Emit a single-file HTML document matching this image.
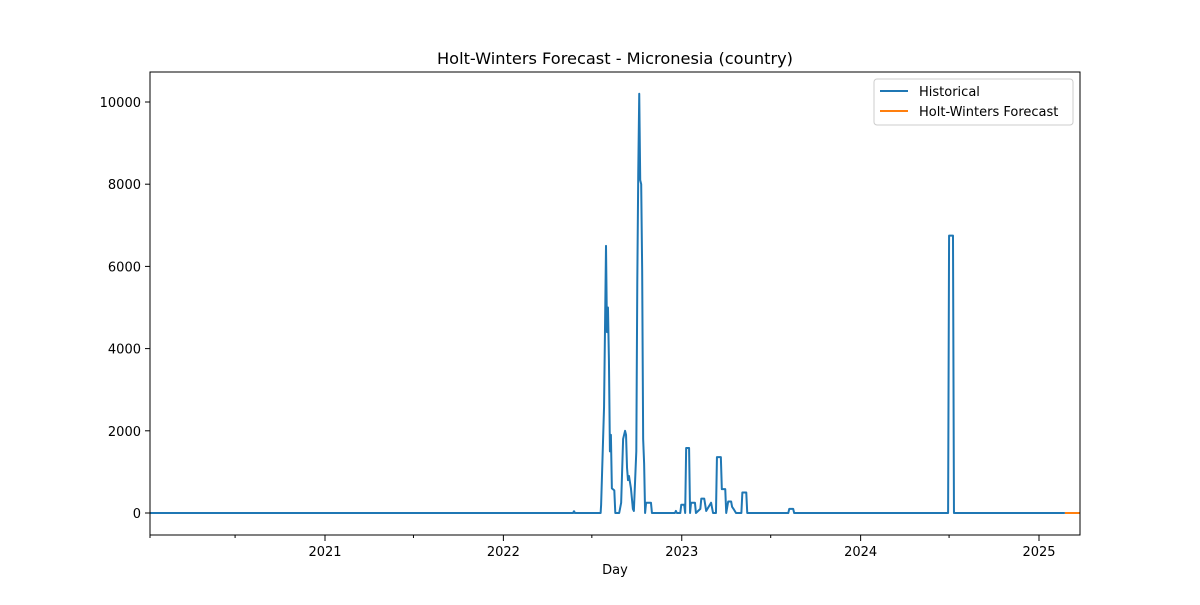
<!DOCTYPE html>
<html><head><meta charset="utf-8"><style>
body{margin:0;background:#fff;}
svg text{font-family:"DejaVu Sans","Liberation Sans",sans-serif;font-size:13px;fill:#000;}
</style></head><body>
<svg id="chart" width="1200" height="600" xmlns="http://www.w3.org/2000/svg">
<rect width="1200" height="600" fill="#fff"/>
<text x="615" y="64" text-anchor="middle" style="font-size:16.2px">Holt-Winters Forecast - Micronesia (country)</text>
<g id="plot"></g>
<rect x="150" y="72" width="930" height="463" fill="none" stroke="#000" stroke-width="1"/>
<text x="615" y="574" text-anchor="middle">Day</text>
<g>
<rect x="874" y="79" width="199" height="46" rx="3" fill="#fff" stroke="#ccc"/>
<line x1="880" y1="91" x2="908" y2="91" stroke="#1f77b4" stroke-width="2"/>
<text x="919" y="96">Historical</text>
<line x1="880" y1="111" x2="908" y2="111" stroke="#ff7f0e" stroke-width="2"/>
<text x="919" y="116">Holt-Winters Forecast</text>
</g>
</svg>
<script>
// days since 2020-01-01
const histDays=[8,600,874,875,876,877,930,931,937,941,943,945,947,949,951,953,958,960,968,972,976,980,982,984,986,988,992,996,998,1003,1005,1007,1009,1011,1013,1015,1017,1019,1021,1023,1033,1035,1082,1084,1086,1093,1095,1101,1103,1105,1111,1113,1115,1123,1125,1134,1136,1142,1146,1156,1160,1166,1168,1176,1178,1185,1187,1191,1197,1199,1203,1207,1218,1220,1228,1230,1314,1316,1324,1326,1641,1643,1651,1653,1880];
const histVals=[0,0,0,40,40,0,0,200,2580,6500,4400,5000,3700,1500,1900,600,550,0,0,250,1800,2000,1900,1100,800,900,600,100,50,1500,5600,8300,10200,8100,8000,5900,1800,1200,0,250,250,0,0,50,0,0,200,200,0,1580,1580,0,250,250,0,100,350,350,50,250,0,0,1360,1360,580,580,0,280,280,150,80,0,0,500,500,0,0,100,100,0,0,6750,6750,0,0];
const fcDays=[1880,1911];
const fcVals=[0,0];
const yTicks=[0,2000,4000,6000,8000,10000];
const xTickLabels=["2021","2022","2023","2024","2025"];
const xTickDays=[366,731,1096,1462,1827];
const xMinorDays=[182,547,912,1278,1643];
const D0=7.9,D1=1910.9,X0=150,X1=1080,Y0=513,YS=0.0411;
const xs=d=>X0+(d-D0)/(D1-D0)*(X1-X0);
const ys=v=>Y0-v*YS;
const ns="http://www.w3.org/2000/svg";
const g=document.getElementById('plot');
function mk(t,a){const e=document.createElementNS(ns,t);for(const k in a)e.setAttribute(k,a[k]);g.appendChild(e);return e;}
yTicks.forEach(v=>{
 const l=mk('line',{x1:145,x2:150,y1:ys(v),y2:ys(v),stroke:'#000'});
 
 
 const t=mk('text',{x:141,y:ys(v)+5,'text-anchor':'end'});t.textContent=v;
 
 
});
xTickDays.forEach((d,i)=>{
 const l=mk('line',{x1:xs(d),x2:xs(d),y1:535,y2:541,stroke:'#000'});
 
 
 const t=mk('text',{x:xs(d),y:556,'text-anchor':'middle'});t.textContent=xTickLabels[i];
 
 
});
[D0].concat(xMinorDays).forEach(d=>{
 const l=mk('line',{x1:xs(d),x2:xs(d),y1:535,y2:538,stroke:'#000'});
 
 
});
const hp=mk('polyline',{points:histDays.map((d,i)=>xs(d)+','+ys(histVals[i])).join(' '),fill:'none',stroke:'#1f77b4','stroke-width':2,'stroke-linejoin':'round'});


const fp=mk('polyline',{points:fcDays.map((d,i)=>xs(d)+','+ys(fcVals[i])).join(' '),fill:'none',stroke:'#ff7f0e','stroke-width':2});


</script>
</body></html>
